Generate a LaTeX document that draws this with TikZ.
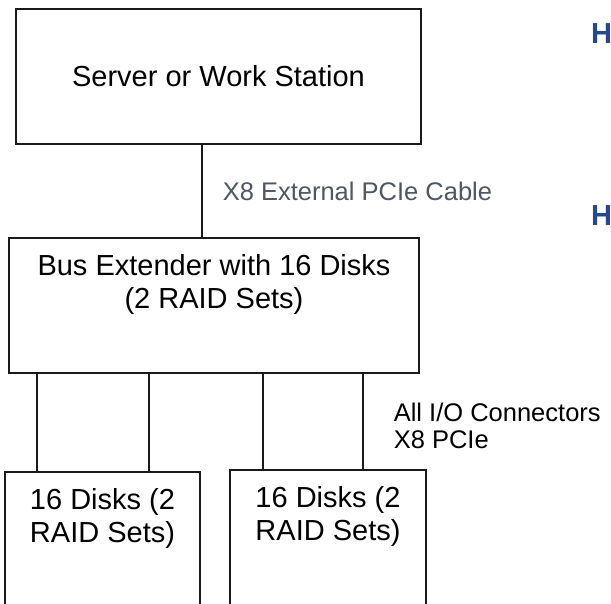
\documentclass[tikz,border=0pt]{standalone}
\usepackage{xcolor}
\usepackage{fontspec}
\usepackage{tikz}
\usetikzlibrary{positioning,calc}
\setmainfont{Liberation Sans}
\definecolor{linegray}{RGB}{26,26,26}
\definecolor{cablegray}{RGB}{78,86,98}
\definecolor{headblue}{RGB}{38,72,142}

\begin{document}
\begin{tikzpicture}[x=1pt, y=-1pt,
        box/.style={rectangle, draw=linegray, line width=1.8pt, inner sep=0pt},
        boxtext/.style={inner sep=0pt, align=center, font=\fontsize{29}{33}\selectfont},
        note/.style={inner sep=0pt, align=left, font=\fontsize{25.5}{27}\selectfont},
        head/.style={inner sep=0pt, anchor=base west, text=headblue, font=\fontsize{29}{33}\selectfont\bfseries},
        link/.style={draw=linegray, line width=1.6pt}]

        \useasboundingbox (0,0) rectangle (611,603);
        \clip (0,0) rectangle (611,603);

        \node[box, minimum width=405pt, minimum height=135pt] (server) at (218.5,76.5) {};
        \node[boxtext] (servertext) at (server.center) {Server or Work Station};
        \node[box, minimum width=410pt, minimum height=135pt] (bus) at (214,305.5) {};
        \node[boxtext, anchor=north] (bustext) at ($(bus.north)+(0,17)$) {Bus Extender with 16 Disks\\(2 RAID Sets)};
        \node[box, minimum width=195pt, minimum height=170pt] (disk1) at (102.5,557) {};
        \node[boxtext, anchor=north] (disk1text) at ($(disk1.north)+(0,17)$) {16 Disks (2\\RAID Sets)};
        \node[box, minimum width=196pt, minimum height=170pt] (disk2) at (328,555) {};
        \node[boxtext, anchor=north] (disk2text) at ($(disk2.north)+(0,17)$) {16 Disks (2\\RAID Sets)};

        \node[head] (h1) at (591,43) {H};
        \node[head] (h2) at (591,225) {H};

        \coordinate (cablex) at (202,0);
        \draw[link] (server.south -| cablex) -- node[note, right=20pt, text=cablegray]{X8 External PCIe Cable} (bus.north -| cablex);

        \foreach \x/\d in {37/disk1,149/disk1,263/disk2}
            \draw[link] (\x,0 |- bus.south) -- (\x,0 |- \d.north);
        \draw[link] (363,0 |- bus.south) -- node[note, pos=0.55, right=30pt]{All I/O Connectors\\X8 PCIe} (363,0 |- disk2.north);

    \end{tikzpicture}
\end{document}
